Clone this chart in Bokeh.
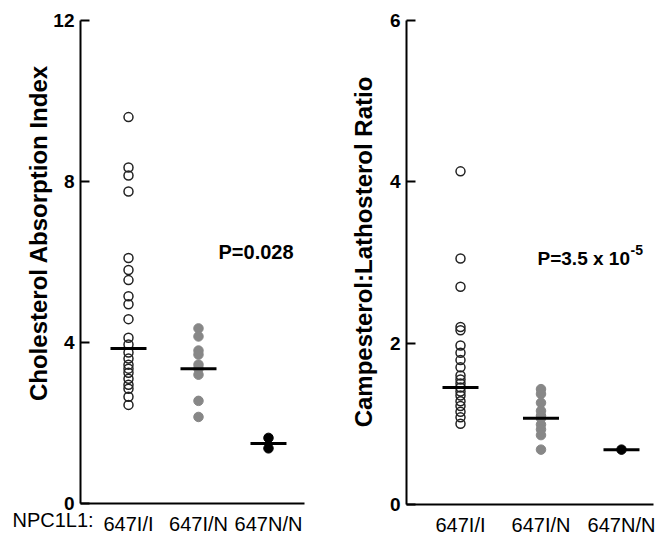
import math
from bokeh.plotting import figure
from bokeh.layouts import row
from bokeh.models import Range1d, FixedTicker, Label
from bokeh.embed import file_html
from bokeh.resources import INLINE

genotypes = ["647I/I", "647I/N", "647N/N"]

# Left panel: Cholesterol Absorption Index
abs_ii = [9.6, 8.35, 8.15, 7.75, 6.1, 5.8, 5.55, 5.15, 4.95, 4.58, 4.12, 3.95,
          3.75, 3.6, 3.45, 3.35, 3.25, 3.1, 2.95, 2.85, 2.65, 2.45]
abs_in = [4.35, 4.15, 3.8, 3.7, 3.45, 3.35, 3.2, 2.55, 2.15]
abs_nn = [1.63, 1.37]
abs_center = [3.85, 3.35, 1.49]
abs_ticks = [0, 4, 8, 12]

# Right panel: Campesterol:Lathosterol Ratio
rat_ii = [4.13, 3.05, 2.7, 2.2, 2.16, 1.97, 1.88, 1.79, 1.7, 1.6, 1.55, 1.5,
          1.45, 1.4, 1.35, 1.28, 1.22, 1.15, 1.08, 1.0]
rat_in = [1.43, 1.37, 1.26, 1.16, 1.1, 1.07, 0.99, 0.93, 0.86, 0.68]
rat_nn = [0.68]
rat_center = [1.45, 1.07, 0.68]
rat_ticks = [0, 2, 4, 6]

FONT = "Liberation Sans"
GRAY = "#878787"


def add_label(p, x, y, text, size, bold=False, angle=0.0, align="left"):
    p.add_layout(Label(x=x, y=y, text=text, angle=angle, text_font=FONT,
                       text_font_style="bold" if bold else "normal",
                       text_font_size=size, text_align=align,
                       text_baseline="middle", text_color="black"))


def panel(width, xr, yr, xbounds, ybounds, ticks, groups, centers):
    p = figure(width=width, height=536, output_backend="svg", toolbar_location=None,
               x_range=Range1d(*xr), y_range=Range1d(*yr), min_border=0)
    p.outline_line_color = None
    p.grid.visible = False
    p.background_fill_color = "white"
    p.border_fill_color = "white"

    ya = p.yaxis[0]
    ya.fixed_location = xbounds[0]
    ya.bounds = ybounds
    ya.ticker = FixedTicker(ticks=ticks)
    ya.major_tick_in = 9
    ya.major_tick_out = 0
    ya.minor_tick_line_color = None
    ya.axis_line_width = 2
    ya.major_tick_line_width = 2
    ya.axis_line_color = "black"
    ya.major_tick_line_color = "black"
    ya.major_label_text_font = FONT
    ya.major_label_text_font_style = "bold"
    ya.major_label_text_font_size = "19px"
    ya.major_label_text_color = "black"
    ya.major_label_standoff = 6

    xa = p.xaxis[0]
    xa.fixed_location = ybounds[0]
    xa.bounds = xbounds
    xa.ticker = FixedTicker(ticks=[1, 2, 3])
    xa.major_label_overrides = {i + 1: g for i, g in enumerate(genotypes)}
    xa.major_tick_line_color = None
    xa.minor_tick_line_color = None
    xa.axis_line_width = 2
    xa.axis_line_color = "black"
    xa.major_label_text_font = FONT
    xa.major_label_text_font_size = "20px"
    xa.major_label_text_color = "black"
    xa.major_label_standoff = 4

    g1, g2, g3 = groups
    p.scatter([1] * len(g1), g1, size=9, fill_color=None, line_color="#222222",
              line_width=1.5)
    p.scatter([2] * len(g2), g2, size=9.5, fill_color=GRAY, line_color=GRAY,
              line_width=1)
    p.scatter([3] * len(g3), g3, size=9.5, fill_color="black", line_color="black",
              line_width=1)
    p.scatter([1, 2, 3], centers, marker="dash", size=36, line_color="black",
              line_width=3)
    return p


p1 = panel(330, (-0.8286, 3.886), (-0.820, 12.497), (0.314, 3.514), (0, 12),
           abs_ticks, (abs_ii, abs_in, abs_nn), abs_center)
add_label(p1, -0.286, 6.72, "Cholesterol Absorption Index", "24px", bold=True,
          angle=math.pi / 2, align="center")
add_label(p1, -0.657, -0.42, "NPC1L1:", "20px")
add_label(p1, 2.286, 6.24, "P=0.028", "20px", bold=True)

p2 = panel(326, (-0.615, 3.435), (-0.397, 6.248), (0.329, 3.398), (0, 6),
           rat_ticks, (rat_ii, rat_in, rat_nn), rat_center)
add_label(p2, -0.205, 3.13, "Campesterol:Lathosterol Ratio", "24px", bold=True,
          angle=math.pi / 2, align="center")
add_label(p2, 1.957, 3.05, "P=3.5 x 10", "19px", bold=True)
add_label(p2, 3.112, 3.16, "-5", "14px", bold=True)

layout = row(p1, p2)
open("out.html", "w").write(file_html(layout, INLINE))
